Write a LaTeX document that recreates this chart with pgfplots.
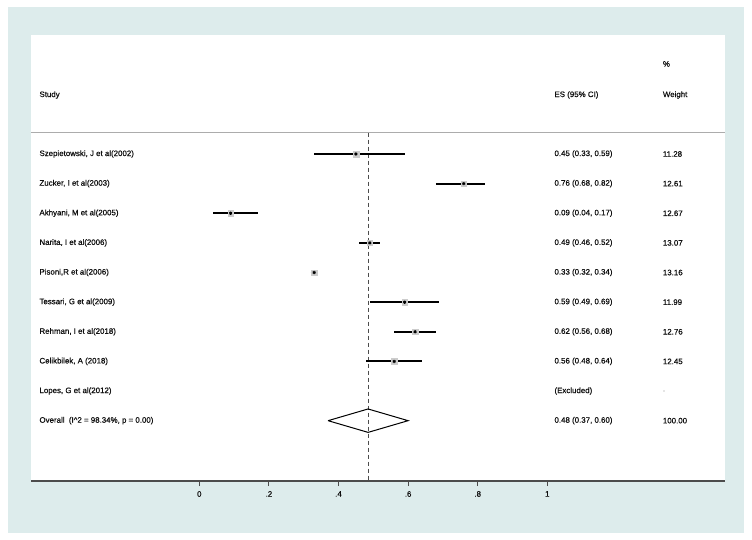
\documentclass[border=0pt]{standalone}
\usepackage{fontspec}
\setmainfont{Liberation Sans}
\newfontfamily\heavy{Liberation Sans}[FakeBold=0.6]
\usepackage{pgfplots}
\pgfplotsset{compat=1.18}
\usepackage{pgfplotstable}
\definecolor{bgpanel}{RGB}{221,236,236}
\definecolor{txt}{RGB}{15,15,15}
\pgfplotstableread{
row es lo hi
1 0.45 0.33 0.59
2 0.76 0.68 0.82
3 0.09 0.04 0.17
4 0.49 0.46 0.52
5 0.33 0.32 0.34
6 0.59 0.49 0.69
7 0.62 0.56 0.68
8 0.56 0.48 0.64
}\studies
\pgfplotstableread{
x y
0.33 -1
0.59 -1
nan nan
0.68 -2
0.82 -2
nan nan
0.04 -3
0.17 -3
nan nan
0.46 -4
0.52 -4
nan nan
0.32 -5
0.34 -5
nan nan
0.49 -6
0.69 -6
nan nan
0.56 -7
0.68 -7
nan nan
0.48 -8
0.64 -8
}\cis
\newcommand{\fs}{\heavy\fontsize{7.9}{9}\selectfont}
\begin{document}
\begin{tikzpicture}[x=1pt,y=-1pt, lab/.style={anchor=west, inner sep=0pt, font=\fs, text=txt}]
\fill[white] (0,0) rectangle (752,540);
\useasboundingbox (0,0) rectangle (752,540);
\fill[bgpanel] (8,7) rectangle (744,533);
\fill[white] (31,35) rectangle (725,481);
\begin{axis}[
  at={(31pt,-481pt)}, anchor=south west,
  scale only axis, width=694pt, height=446pt,
  xmin=-0.4836, xmax=1.5106, ymin=-12.036, ymax=3.016,
  axis x line*=bottom, axis y line=none,
  x axis line style={-, black!70, line width=1.2pt},
  xtick={0,0.2,0.4,0.6,0.8,1},
  xticklabels={0,.2,.4,.6,.8,1},
  ytick=\empty,
  tick align=outside, major tick length=5pt,
  xtick style={black!70, line width=0.9pt},
  xticklabel style={font=\fs, text=txt, inner sep=0pt, yshift=-5pt},
  clip=false, unbounded coords=jump,
]
% header separator
\addplot[gray!65, line width=1pt] coordinates {(-0.4836,-0.281) (1.5106,-0.281)};
% overall dashed reference
\addplot[black!70, line width=0.8pt, dash pattern=on 4pt off 3pt] coordinates {(0.485,-0.281) (0.485,-12.036)};
% confidence intervals
\addplot[black, line width=2pt, mark=none] table[x=x, y=y] {\cis};
% weight boxes and point estimates
\addplot[only marks, mark=square*, mark size=2.8pt, mark options={fill=gray!40, draw=gray!40}]
  table[x=es, y expr=-\thisrow{row}] {\studies};
\addplot[only marks, mark=asterisk, mark size=1.6pt, mark options={black, line width=0.9pt}]
  table[x=es, y expr=-\thisrow{row}] {\studies};
% overall diamond
\addplot[black, line width=1pt, line join=miter] coordinates {(0.37,-10) (0.485,-9.605) (0.60,-10) (0.485,-10.395) (0.37,-10)};
% texts
\node[lab] at (axis cs:-0.4598,0.991) {Study};
\node[lab] at (axis cs:1.0201,0.991) {ES (95\% CI)};
\node[lab] at (axis cs:1.3316,0.991) {Weight};
\node[lab] at (axis cs:1.3316,2.04) {\%};
\node[lab] at (axis cs:-0.4598,-1) {Szepietowski, J et al(2002)};
\node[lab] at (axis cs:-0.4598,-2) {Zucker, I et al(2003)};
\node[lab] at (axis cs:-0.4598,-3) {Akhyani, M et al(2005)};
\node[lab] at (axis cs:-0.4598,-4) {Narita, I et al(2006)};
\node[lab] at (axis cs:-0.4598,-5) {Pisoni,R et al(2006)};
\node[lab] at (axis cs:-0.4598,-6) {Tessari, G et al(2009)};
\node[lab] at (axis cs:-0.4598,-7) {Rehman, I et al(2018)};
\node[lab] at (axis cs:-0.4598,-8) {Celikbilek, A (2018)};
\node[lab] at (axis cs:-0.4598,-9) {Lopes, G et al(2012)};
\node[lab] at (axis cs:-0.4598,-10) {Overall\ \ (I\^{}2 = 98.34\%, p = 0.00)};
\node[lab] at (axis cs:1.0201,-1) {0.45 (0.33, 0.59)};
\node[lab] at (axis cs:1.0201,-2) {0.76 (0.68, 0.82)};
\node[lab] at (axis cs:1.0201,-3) {0.09 (0.04, 0.17)};
\node[lab] at (axis cs:1.0201,-4) {0.49 (0.46, 0.52)};
\node[lab] at (axis cs:1.0201,-5) {0.33 (0.32, 0.34)};
\node[lab] at (axis cs:1.0201,-6) {0.59 (0.49, 0.69)};
\node[lab] at (axis cs:1.0201,-7) {0.62 (0.56, 0.68)};
\node[lab] at (axis cs:1.0201,-8) {0.56 (0.48, 0.64)};
\node[lab] at (axis cs:1.0201,-9) {(Excluded)};
\node[lab] at (axis cs:1.0201,-10) {0.48 (0.37, 0.60)};
\node[lab] at (axis cs:1.3316,-1) {11.28};
\node[lab] at (axis cs:1.3316,-2) {12.61};
\node[lab] at (axis cs:1.3316,-3) {12.67};
\node[lab] at (axis cs:1.3316,-4) {13.07};
\node[lab] at (axis cs:1.3316,-5) {13.16};
\node[lab] at (axis cs:1.3316,-6) {11.99};
\node[lab] at (axis cs:1.3316,-7) {12.76};
\node[lab] at (axis cs:1.3316,-8) {12.45};
\node[lab, text=gray] at (axis cs:1.3316,-9) {.};
\node[lab] at (axis cs:1.3316,-10) {100.00};
\end{axis}
\end{tikzpicture}
\end{document}
